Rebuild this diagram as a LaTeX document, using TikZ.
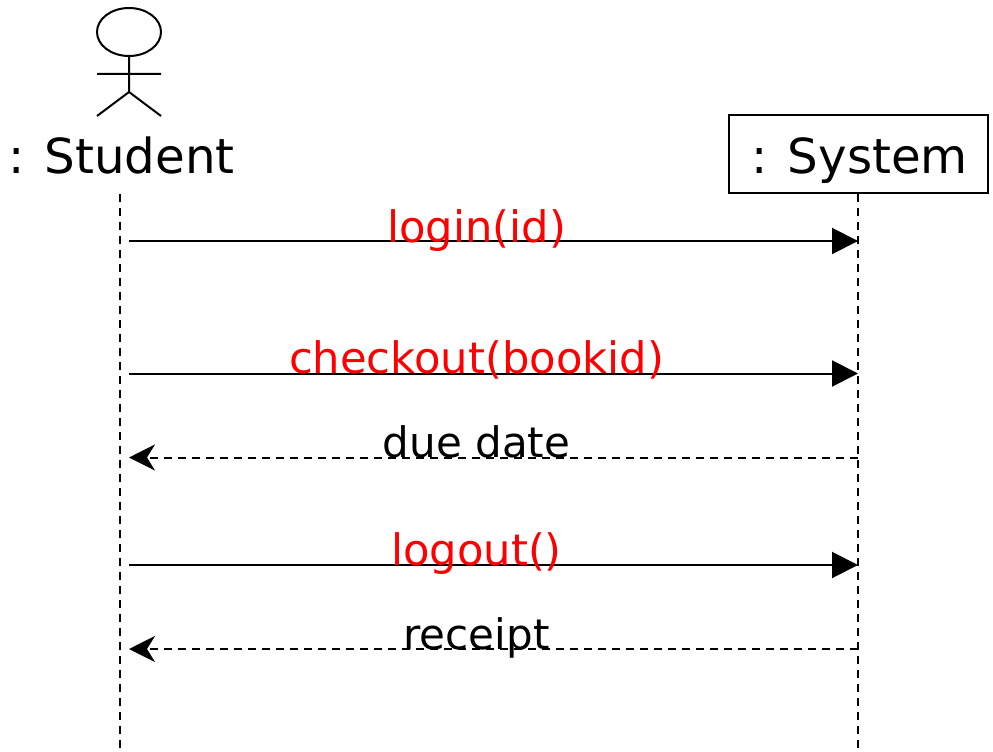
\documentclass[tikz,border=0pt]{standalone}
\usepackage{fontspec}
\setmainfont{DejaVu Sans}
\usetikzlibrary{arrows.meta}
\tikzset{
 lbl/.style={inner sep=0pt,font=\fontsize{48.3}{56}\selectfont,anchor=base},
 msglbl/.style={inner sep=0pt,font=\fontsize{43.3}{50}\selectfont,anchor=base},
 retlbl/.style={inner sep=0pt,font=\fontsize{42}{50}\selectfont,anchor=base},
 life/.style={black,line width=2pt,dash pattern=on 8pt off 6pt},
 msg/.style={black,line width=2pt,-{Triangle[length=26pt,width=26pt]}},
 ret/.style={black,line width=2pt,dash pattern=on 8pt off 6pt,-{Stealth[length=26pt,width=26pt,inset=8pt]}},
 stick/.style={black,line width=2pt}
}
\begin{document}
\begin{tikzpicture}[x=1pt,y=-1pt]
\useasboundingbox (0,0) rectangle (993,752);
% actor
\draw[stick] (129,32) ellipse (32 and 24);
\coordinate (neck) at (129,56);
\coordinate (hip) at (129,92);
\coordinate (armL) at (97,74);
\coordinate (armR) at (161,74);
\coordinate (legL) at (97,116);
\coordinate (legR) at (161,116);
\draw[stick] (neck) -- (hip) (armL) -- (armR) (hip) -- (legL) (hip) -- (legR);
\node[lbl,text=black] (student) at (121.5,173) {: Student};
\node[draw=black,line width=2pt,minimum width=259pt,minimum height=78pt,inner sep=0pt] (system) at (858.5,153.5) {};
\node[lbl,text=black] (systemlabel) at (859.5,173) {: System};
% lifelines
\coordinate (s0) at (120,194);
\coordinate (s1) at (120,748);
\coordinate (y0) at (858,194);
\coordinate (y1) at (858,748);
\draw[life] (s0) -- (s1);
\draw[life] (y0) -- (y1);
% messages
\coordinate (a1) at (129,241); \coordinate (b1) at (858,241);
\coordinate (a2) at (129,373.5); \coordinate (b2) at (858,373.5);
\coordinate (a3) at (858,457.5); \coordinate (b3) at (129,457.5);
\coordinate (a4) at (129,565); \coordinate (b4) at (858,565);
\coordinate (a5) at (858,649); \coordinate (b5) at (129,649);
\draw[msg] (a1) -- (b1);
\draw[msg] (a2) -- (b2);
\draw[ret] (a3) -- (b3);
\draw[msg] (a4) -- (b4);
\draw[ret] (a5) -- (b5);
\node[msglbl,text=red] (m1) at (476.5,242) {login(id)};
\node[msglbl,text=red] (m2) at (476.5,373.5) {checkout(bookid)};
\node[retlbl,text=black] (m3) at (476.5,457.5) {due date};
\node[msglbl,text=red] (m4) at (476.5,565.5) {logout()};
\node[retlbl,text=black] (m5) at (476.5,649.5) {receipt};
\end{tikzpicture}
\end{document}
